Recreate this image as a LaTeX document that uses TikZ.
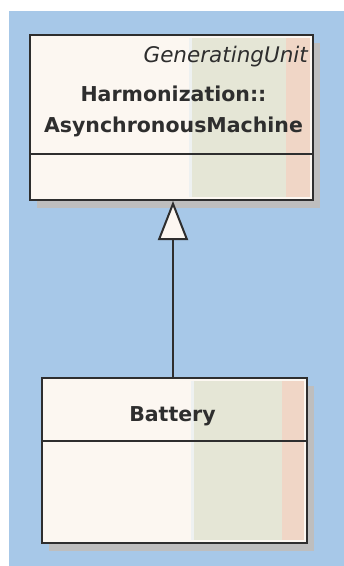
\documentclass[tikz,border=0pt]{standalone}
\usepackage{fontspec}
\setmainfont{DejaVu Sans}
\usepackage{tikz}
\usetikzlibrary{arrows.meta, positioning, calc, shadows}

\definecolor{diagbg}{HTML}{A7C8E8}
\definecolor{shadowgray}{HTML}{BEBEBE}
\definecolor{creamfill}{HTML}{FCF7F1}
\definecolor{greenfill}{HTML}{E5E6D6}
\definecolor{pinkfill}{HTML}{F0D6C6}
\definecolor{stripfill}{HTML}{EEF1F1}
\definecolor{linedark}{HTML}{2E2E2E}

\begin{document}
\begin{tikzpicture}[x=1pt, y=-1pt,
    classbox/.style={rectangle, draw=linedark, line width=2pt, minimum width=#1, minimum height=165pt,
        drop shadow={shadow xshift=7pt, shadow yshift=-8pt, fill=shadowgray, opacity=1},
        path picture={
            \path (path picture bounding box.north west) coordinate (bnw)
                  (path picture bounding box.south east) coordinate (bse);
            \fill[creamfill] (bnw) rectangle (bse);
            \fill[greenfill] ([yshift=-3pt]$(bnw)!0.57!(bnw -| bse)$) rectangle ([yshift=3pt]$(bnw |- bse)!0.905!(bse)$);
            \fill[pinkfill] ([yshift=-3pt]$(bnw)!0.905!(bnw -| bse)$) rectangle ([yshift=3pt]$(bnw |- bse)!0.99!(bse)$);
            \fill[stripfill] ([yshift=-3pt]$(bnw)!0.562!(bnw -| bse)$) rectangle ([yshift=3pt]$(bnw |- bse)!0.572!(bse)$);
        }},
    classname/.style={align=center, font=\fontsize{20.5pt}{31pt}\selectfont\bfseries, text=linedark, inner sep=0pt},
    stereo/.style={font=\fontsize{21.5pt}{26pt}\selectfont\itshape, text=linedark, inner sep=0pt},
    divider/.style={draw=linedark, line width=2pt},
    generalize/.style={-{Triangle[length=39pt, width=30pt, fill=creamfill]}, draw=linedark, line width=2pt},
]
\useasboundingbox (0,0) rectangle (344,566);
\fill[diagbg] (9,11) rectangle (344,566);

% Classes
\node[classbox=283pt] (machine) at (171.5,117.5) {};
\node[classbox=265pt] (battery) at (174.5,460.5) {};

% Names
\node[stereo, anchor=east] (machinestereo) at ([xshift=-6pt, yshift=-23pt]machine.north east) {GeneratingUnit};
\node[classname] (machinename) at ([xshift=2pt, yshift=-77pt]machine.north) {Harmonization::\\AsynchronousMachine};
\node[classname] (batteryname) at ([xshift=-2pt, yshift=-39pt]battery.north) {Battery};

% Compartments
\draw[divider] ([yshift=-120pt]machine.north west) -- ([yshift=-120pt]machine.north east);
\draw[divider] ([yshift=-64pt]battery.north west) -- ([yshift=-64pt]battery.north east);

% Generalization
\draw[generalize] ([xshift=-1.5pt]battery.north) -- ([xshift=-1.5pt]battery.north |- machine.south);
\end{tikzpicture}
\end{document}
